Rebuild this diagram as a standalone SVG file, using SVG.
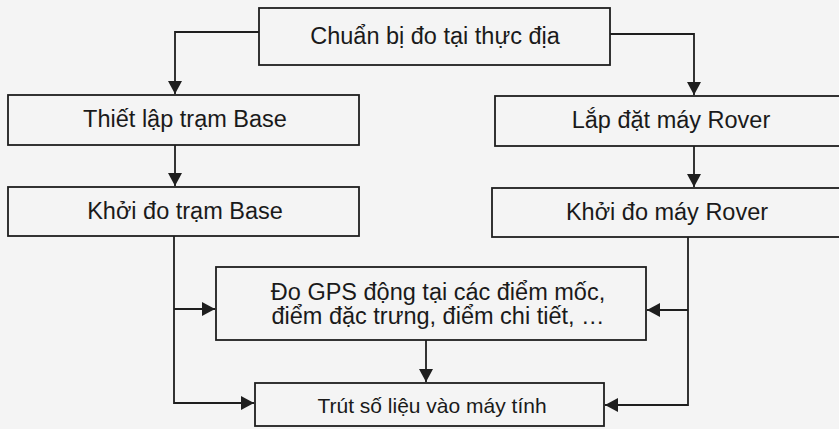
<svg xmlns="http://www.w3.org/2000/svg" width="839" height="429" viewBox="0 0 839 429">
<defs>
<marker id="arr" viewBox="0 0 13 14" refX="13" refY="7" markerWidth="13" markerHeight="14" markerUnits="userSpaceOnUse" orient="auto">
<path d="M0,0 L13,7 L0,14 Z" fill="#1e1e1e"/>
</marker>
<style>
.box{fill:none;stroke:#1e1e1e;stroke-width:1.8}
.lbl{font-family:"Liberation Sans",Arial,sans-serif;font-size:23.5px;fill:#1a1a1a;text-anchor:middle}
.sm{font-size:21px}
.con{fill:none;stroke:#1e1e1e;stroke-width:1.8}
</style>
</defs>
<rect x="0" y="0" width="839" height="429" fill="#f4f4f4"/>
<g id="n1"><rect class="box" x="259" y="8" width="351" height="57"/><text class="lbl" x="435" y="44">Chuẩn bị đo tại thực địa</text></g>
<g id="n2"><rect class="box" x="8" y="95" width="351" height="50"/><text class="lbl" x="185" y="127">Thiết lập trạm Base</text></g>
<g id="n3"><rect class="box" x="8" y="187" width="351" height="49"/><text class="lbl" x="185" y="219">Khởi đo trạm Base</text></g>
<g id="n4"><rect class="box" x="495" y="96" width="350" height="50"/><text class="lbl" x="671" y="128">Lắp đặt máy Rover</text></g>
<g id="n5"><rect class="box" x="492" y="188" width="353" height="49"/><text class="lbl" x="667" y="220">Khởi đo máy Rover</text></g>
<g id="n6"><rect class="box" x="216" y="267" width="430" height="73"/><text class="lbl" x="438" y="300">Đo GPS động tại các điểm mốc,</text><text class="lbl" x="438" y="324">điểm đặc trưng, điểm chi tiết, …</text></g>
<g id="n7"><rect class="box" x="255" y="383" width="349" height="43"/><text class="lbl sm" x="432" y="413">Trút số liệu vào máy tính</text></g>
<g id="connectors">
<path class="con" d="M259,32 H175 V94" marker-end="url(#arr)"/>
<path class="con" d="M610,34 H694 V95" marker-end="url(#arr)"/>
<path class="con" d="M175,145 V186" marker-end="url(#arr)"/>
<path class="con" d="M694,146 V187" marker-end="url(#arr)"/>
<path class="con" d="M174,236 V403 H254" marker-end="url(#arr)"/>
<path class="con" d="M174,309 H215" marker-end="url(#arr)"/>
<path class="con" d="M688,237 V405 H605" marker-end="url(#arr)"/>
<path class="con" d="M688,310 H647" marker-end="url(#arr)"/>
<path class="con" d="M426,340 V382" marker-end="url(#arr)"/>
</g>
</svg>
